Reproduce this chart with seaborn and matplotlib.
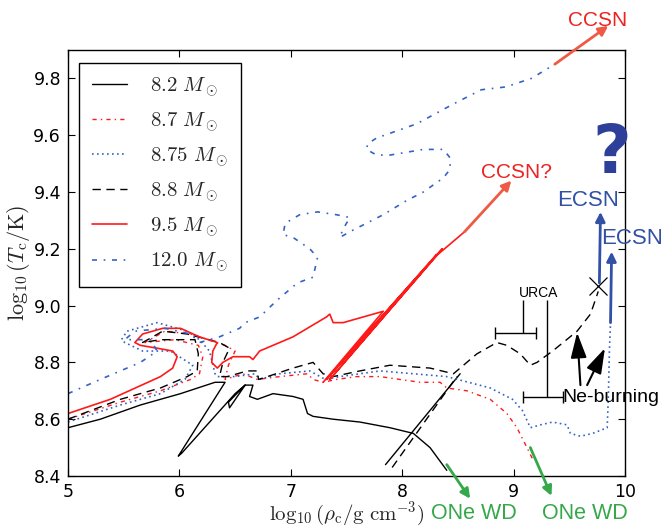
import numpy as np
import matplotlib
matplotlib.use("Agg")
import matplotlib.pyplot as plt
from matplotlib.lines import Line2D
import seaborn as sns

# ---------------- data (log rho_c, log T_c) ; NaN separates segments ----------------
m82_x = [5.00, 5.29, 5.65, 6.01, 6.32, 6.41, 5.99, 6.02, 6.50, 6.59, 6.44, 6.45, 6.59, 6.66, 6.63, 6.70,
         6.84, 7.02, 7.11, 7.15, 7.20, 7.38, 7.62, 7.89, 8.10, 8.25, 8.40, np.nan, 7.85, 8.52]
m82_y = [8.57, 8.60, 8.65, 8.69, 8.73, 8.73, 8.47, 8.48, 8.69, 8.72, 8.66, 8.64, 8.72, 8.72, 8.68, 8.67,
         8.69, 8.68, 8.67, 8.62, 8.61, 8.60, 8.59, 8.57, 8.55, 8.50, 8.42, np.nan, 8.44, 8.76]

m87_x = [5.00, 5.47, 5.83, 6.10, 6.18, 6.21, 6.17, 5.96, 5.69, 5.87, 6.10, 6.41, 6.50, 6.44, 6.41, 6.57,
         6.70, 6.90, 7.15, 7.20, 7.29, 7.41, 7.59, 7.80, 7.98, 8.16, 8.34, 8.40, 8.58, 8.79, 8.94, 9.03,
         9.12, 9.17]
m87_y = [8.60, 8.66, 8.70, 8.74, 8.76, 8.82, 8.86, 8.88, 8.87, 8.91, 8.90, 8.86, 8.84, 8.79, 8.74, 8.76,
         8.74, 8.75, 8.76, 8.74, 8.73, 8.74, 8.75, 8.75, 8.74, 8.73, 8.73, 8.71, 8.70, 8.67, 8.62, 8.57,
         8.50, 8.46]

m875_x = [5.00, 5.47, 5.83, 6.05, 6.12, 5.92, 5.67, 5.51, 5.48, 5.53, 5.80, 6.07, 6.18, 6.27, 6.32, 6.34,
          6.50, 6.68, 6.72, 6.90, 7.17, 7.31, 7.44, 7.80, 8.40, 8.79, 8.99, 9.08, 9.15, 9.24, 9.35, 9.48,
          9.51, 9.60, 9.71, 9.84, 9.85, 9.86, 9.87]
m875_y = [8.59, 8.65, 8.69, 8.74, 8.79, 8.84, 8.84, 8.87, 8.88, 8.91, 8.94, 8.91, 8.88, 8.84, 8.76, 8.75,
          8.75, 8.76, 8.74, 8.76, 8.77, 8.74, 8.75, 8.77, 8.75, 8.71, 8.67, 8.63, 8.57, 8.58, 8.59, 8.58,
          8.55, 8.54, 8.55, 8.57, 8.67, 8.84, 8.94]

m88_x = [5.00, 5.47, 5.83, 6.07, 6.16, 6.17, 6.14, 5.83, 5.67, 5.85, 6.07, 6.36, 6.45, 6.39, 6.36, 6.43,
         6.61, 6.70, 6.71, 6.79, 7.02, 7.20, 7.29, 7.38, 7.62, 7.89, 8.25, 8.46, 8.67, 8.85, 8.94, 9.06,
         9.15, 9.21, 9.35, 9.57, 9.69, 9.76, np.nan, 7.91, 8.49]
m88_y = [8.60, 8.67, 8.71, 8.75, 8.77, 8.83, 8.88, 8.88, 8.87, 8.91, 8.90, 8.87, 8.85, 8.80, 8.75, 8.75,
         8.77, 8.77, 8.74, 8.75, 8.78, 8.80, 8.76, 8.75, 8.77, 8.79, 8.78, 8.76, 8.83, 8.87, 8.86, 8.83,
         8.79, 8.80, 8.84, 8.91, 8.97, 9.05, np.nan, 8.43, 8.75]

m95_x = [5.00, 5.38, 5.83, 5.94, 5.98, 5.94, 5.80, 5.65, 5.60, 5.67, 5.85, 6.01, 6.18, 6.34, 6.30, 6.29,
         6.34, 6.39, 6.48, 6.63, 6.66, 6.72, 7.02, 7.32, 7.35, 7.38, 7.47, 7.83, 7.29, 8.31, 7.32, 8.34,
         7.35, 8.36, 8.29, 8.56]
m95_y = [8.62, 8.67, 8.75, 8.78, 8.82, 8.84, 8.85, 8.86, 8.87, 8.90, 8.92, 8.92, 8.89, 8.87, 8.84, 8.80,
         8.78, 8.80, 8.82, 8.82, 8.81, 8.84, 8.89, 8.96, 8.97, 8.94, 8.94, 8.98, 8.73, 9.18, 8.74, 9.19,
         8.74, 9.20, 9.17, 9.26]

m120_x = [5.00, 5.29, 5.65, 5.80, 5.74, 5.51, 5.60, 5.87, 6.10, 6.18, 6.36, 6.54, 6.59, 6.72, 6.88, 7.06,
          7.20, 7.24, 7.17, 7.02, 6.93, 6.95, 7.08, 7.24, 7.41, 7.53, 7.47, 7.44, 7.53, 7.68, 7.83, 8.04,
          8.19, 8.37, 8.43, 8.43, 8.37, 8.19, 7.89, 7.77, 7.68, 7.69, 7.77, 8.13, 8.46, 8.71, 8.93, 9.16,
          9.37]
m120_y = [8.69, 8.74, 8.80, 8.84, 8.88, 8.88, 8.91, 8.92, 8.90, 8.87, 8.89, 8.92, 8.94, 8.96, 9.02, 9.08,
          9.10, 9.17, 9.20, 9.24, 9.25, 9.29, 9.32, 9.33, 9.32, 9.31, 9.27, 9.24, 9.26, 9.29, 9.32, 9.37,
          9.40, 9.45, 9.48, 9.52, 9.55, 9.55, 9.53, 9.53, 9.55, 9.57, 9.59, 9.64, 9.71, 9.76, 9.77, 9.80,
          9.85]

labels = [r"$8.2\ M_\odot$", r"$8.7\ M_\odot$", r"$8.75\ M_\odot$",
          r"$8.8\ M_\odot$", r"$9.5\ M_\odot$", r"$12.0\ M_\odot$"]

# annotation positions (data coords)
ccsn_arrow = [(9.37, 9.85), (9.85, 9.985)]
ccsnq_arrow = [(8.56, 9.26), (8.98, 9.44)]
ecsn1_arrow = [(9.77, 9.08), (9.78, 9.33)]
ecsn2_arrow = [(9.87, 8.94), (9.88, 9.19)]
onewd1_arrow = [(8.40, 8.44), (8.61, 8.32)]
onewd2_arrow = [(9.15, 8.50), (9.34, 8.33)]
ne_arrows = [[(9.60, 8.72), (9.57, 8.905)], [(9.66, 8.72), (9.82, 8.85)]]
urca_bars = [(9.08, 8.905, 0.25, 0.12, 9.02), (9.30, 8.677, 0.22, 0.14, 9.02)]
x_mark = (9.76, 9.07)

# ---------------- style ----------------
sns.set_style("ticks", {"xtick.direction": "in", "ytick.direction": "in",
                        "axes.edgecolor": "black", "xtick.color": "black", "ytick.color": "black"})
plt.rcParams["font.family"] = ["DejaVu Sans"]
plt.rcParams["mathtext.fontset"] = "cm"

fig = plt.figure(figsize=(6.64, 5.28), dpi=100)
ax = fig.add_axes([68 / 664, 52 / 528, 557 / 664, 426 / 528])

RED = "#ff1a1a"
BLUE = "#3563c4"
styles = [
    dict(color="black", linestyle="-", lw=1.0),
    dict(color=RED, linestyle=(0, (3, 3, 1, 3)), lw=1.0),
    dict(color=BLUE, linestyle=(0, (1, 2)), lw=1.2),
    dict(color="black", linestyle=(0, (6, 4)), lw=1.0),
    dict(color=RED, linestyle="-", lw=1.2),
    dict(color=BLUE, linestyle=(0, (3, 4, 1, 4)), lw=1.2),
]
tracks = [(m82_x, m82_y), (m87_x, m87_y), (m875_x, m875_y),
          (m88_x, m88_y), (m95_x, m95_y), (m120_x, m120_y)]

handles = []
for (xs, ys), st, lab in zip(tracks, styles, labels):
    xs = np.asarray(xs, float)
    ys = np.asarray(ys, float)
    cuts = np.where(np.isnan(xs))[0]
    starts = np.concatenate([[0], cuts + 1])
    ends = np.concatenate([cuts, [len(xs)]])
    for s, e in zip(starts, ends):
        sns.lineplot(x=xs[s:e], y=ys[s:e], sort=False, estimator=None, ax=ax, **st)
    handles.append(Line2D([], [], label=lab, **st))

ax.set_xlim(5, 10)
ax.set_ylim(8.4, 9.9)
ax.set_xticks([5, 6, 7, 8, 9, 10])
ax.set_yticks([8.4, 8.6, 8.8, 9.0, 9.2, 9.4, 9.6, 9.8])
ax.tick_params(top=True, right=True, length=5, width=0.8, labelsize=12.5, pad=5)
for sp in ax.spines.values():
    sp.set_linewidth(1.0)
ax.set_xlabel(r"$\log_{10}(\rho_{\rm c}/{\rm g\ cm^{-3}})$", fontsize=15, labelpad=-1)
ax.set_ylabel(r"$\log_{10}(T_{\rm c}/{\rm K})$", fontsize=16, labelpad=1)

leg = ax.legend(handles=handles, loc="upper left", bbox_to_anchor=(0.02, 0.97),
                borderaxespad=0, fontsize=15, fancybox=False, framealpha=1,
                edgecolor="black", handlelength=1.7, handletextpad=1.1,
                labelspacing=0.55, borderpad=0.6)
leg.get_frame().set_linewidth(1.0)

# ---------------- annotations ----------------
SANS = "Liberation Sans"

def arrow(p, color, lw=2.0, ms=14, style="-|>"):
    ax.annotate("", xy=p[1], xytext=p[0], annotation_clip=False,
                arrowprops=dict(arrowstyle=style, color=color, lw=lw,
                                mutation_scale=ms, shrinkA=0, shrinkB=0))

ORANGE = "#ee5a44"
GREEN = "#35a84a"
EBLUE = "#3150a6"
arrow(ccsn_arrow, ORANGE)
arrow(ccsnq_arrow, ORANGE)
arrow(ecsn1_arrow, EBLUE)
arrow(ecsn2_arrow, EBLUE)
arrow(onewd1_arrow, GREEN)
arrow(onewd2_arrow, GREEN)
for p in ne_arrows:
    arrow(p, "black", lw=1.5, ms=22, style="-|>,head_length=0.7,head_width=0.22")

for xc, yc, xm, xp, ytop in urca_bars:
    ax.errorbar([xc], [yc], xerr=[[xm], [xp]], fmt="none", ecolor="black",
                elinewidth=1.0, capsize=4, capthick=1.0)
    ax.vlines(xc, yc, ytop, color="black", lw=1.0)

ax.plot([x_mark[0]], [x_mark[1]], marker="x", ms=13, mew=0.9, color="black", ls="none")

ax.text(9.75, 10.005, "CCSN", color="#ee2222", fontsize=15, family=SANS,
        ha="center", va="center", clip_on=False)
ax.text(9.03, 9.467, "CCSN?", color="#ee2222", fontsize=15, family=SANS,
        ha="center", va="center")
ax.text(9.67, 9.37, "ECSN", color=EBLUE, fontsize=16, family=SANS,
        ha="center", va="center")
ax.text(10.06, 9.235, "ECSN", color=EBLUE, fontsize=16, family=SANS,
        ha="center", va="center", clip_on=False)
ax.text(9.88, 9.535, "?", color="#2d3f99", fontsize=48, family="DejaVu Sans",
        fontweight="bold", ha="center", va="center", clip_on=False)
ax.text(8.64, 8.268, "ONe WD", color=GREEN, fontsize=15.5, family=SANS,
        ha="center", va="center", clip_on=False)
ax.text(9.64, 8.268, "ONe WD", color=GREEN, fontsize=15.5, family=SANS,
        ha="center", va="center", clip_on=False)
ax.text(9.22, 9.045, "URCA", color="black", fontsize=10, family=SANS,
        ha="center", va="center")
ax.text(9.44, 8.677, "Ne-burning", color="black", fontsize=14, family=SANS,
        ha="left", va="center", clip_on=False)

fig.savefig("out.png", dpi=100)
